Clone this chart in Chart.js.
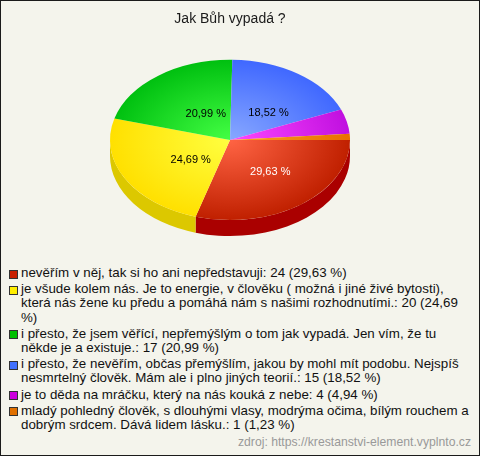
<!DOCTYPE html>
<html>
<head>
<meta charset="utf-8">
<script src="https://cdn.jsdelivr.net/npm/chart.js@4.4.1/dist/chart.umd.min.js"></script>
<style>
  body { margin: 0; background: #fff; }
  #wrap {
    position: relative; width: 478px; height: 454px;
    border: 1px solid #1a1a1a; background: #f4f4ec; overflow: hidden;
    font-family: "Liberation Sans", Arial, sans-serif;
  }
  #pie { position: absolute; left: 0; top: 0; }
  #legend { position: absolute; left: 8px; top: 265px; width: 460px; }
  .item { display: flex; align-items: flex-start; margin-bottom: 2px; font-size: 13.35px; line-height: 14.2px; color: #111; }
  .box { flex: none; width: 7px; height: 7px; border: 1px solid #333; margin: 3.5px 3px 0 0; }
  #source { position: absolute; right: 8px; top: 434px; font-size: 12.2px; line-height: 14px; color: #999; }
</style>
</head>
<body>
<div id="wrap">
  <canvas id="pie" width="478" height="250"></canvas>
  <div id="legend"></div>
  <div id="source">zdroj: https://krestanstvi-element.vyplnto.cz</div>
</div>
<script>
var title = 'Jak Bůh vypadá ?';
var answers = [
  'nevěřím v něj, tak si ho ani nepředstavuji',
  'je všude kolem nás. Je to energie, v člověku ( možná i jiné živé bytosti), která nás žene ku předu a pomáhá nám s našimi rozhodnutími.',
  'i přesto, že jsem věřící, nepřemýšlým o tom jak vypadá. Jen vím, že tu někde je a existuje.',
  'i přesto, že nevěřím, občas přemýšlím, jakou by mohl mít podobu. Nejspíš nesmrtelný člověk. Mám ale i plno jiných teorií.',
  'je to děda na mráčku, který na nás kouká z nebe',
  'mladý pohledný člověk, s dlouhými vlasy, modrýma očima, bílým rouchem a dobrým srdcem. Dává lidem lásku.'
];
var votes = [24, 20, 17, 15, 4, 1];

// colours: light centre, darker rim, side wall, legend box, label text
var lightColors = ['#ff6444', '#ffff40', '#44ff44', '#88a8ff', '#ff48ff', '#ffa020'];
var rimColors   = ['#c02000', '#ffe000', '#00c010', '#4068ff', '#c010e0', '#e87000'];
var sideColors  = ['#aa0000', '#dcc800', '#009000', '#2040c0', '#9000a0', '#b05000'];
var boxColors   = ['#c82000', '#ffee00', '#00c000', '#4070ff', '#cc00dd', '#e07000'];
var labelColors = ['#ffffff', '#000000', '#000000', '#000000', '#000000', '#000000'];

var total = votes.reduce((a, b) => a + b, 0);
function pct(v){
    return (v / total * 100).toFixed(2).replace('.', ',');
}

document.addEventListener('DOMContentLoaded', function() {
    build_legend();
    draw_pie();
});

function build_legend(){
    var legend = document.querySelector('#legend');
    answers.forEach((answer, i) => {
        var item = document.createElement('div');
        item.className = 'item';
        var box = document.createElement('span');
        box.className = 'box';
        box.style.background = boxColors[i];
        var text = document.createElement('span');
        text.textContent = answer + ': ' + votes[i] + ' (' + pct(votes[i]) + ' %)';
        item.appendChild(box);
        item.appendChild(text);
        legend.appendChild(item);
    });
}

// squash the circle into an ellipse and give it a wall
var depth = 16;
function ellipseOf(chart){
    var a = chart.chartArea;
    var rx = a.width / 2;
    var ry = (a.height - depth) / 2;
    return { cx: a.left + rx, cy: a.top + ry, rx: rx, ry: ry };
}

var tiltPlugin = {
    id: 'tilt',
    beforeDatasetsDraw(chart){
        var ctx = chart.ctx;
        var e = ellipseOf(chart);
        var meta = chart.getDatasetMeta(0);
        meta.data.forEach((arc, i) => {
            [0, 2 * Math.PI].forEach((base) => {
                var s = Math.max(arc.startAngle, base);
                var t = Math.min(arc.endAngle, base + Math.PI);
                if (t <= s) return;
                ctx.beginPath();
                ctx.ellipse(e.cx, e.cy, e.rx, e.ry, 0, s, t);
                ctx.ellipse(e.cx, e.cy + depth, e.rx, e.ry, 0, t, s, true);
                ctx.closePath();
                ctx.fillStyle = sideColors[i];
                ctx.fill();
            });
        });
        var arc0 = meta.data[0];
        ctx.save();
        ctx.translate(e.cx, e.cy);
        ctx.scale(e.rx / arc0.outerRadius, e.ry / arc0.outerRadius);
        ctx.translate(-arc0.x, -arc0.y);
    },
    afterDatasetsDraw(chart){
        var ctx = chart.ctx;
        ctx.restore();
        var e = ellipseOf(chart);
        var meta = chart.getDatasetMeta(0);
        ctx.font = '11px "Liberation Sans", Arial, sans-serif';
        ctx.textAlign = 'center';
        ctx.textBaseline = 'middle';
        meta.data.forEach((arc, i) => {
            if (votes[i] / total < 0.1) return;
            var mid = (arc.startAngle + arc.endAngle) / 2;
            ctx.fillStyle = labelColors[i];
            ctx.fillText(pct(votes[i]) + ' %',
                e.cx + 8 + e.rx * 0.45 * Math.cos(mid),
                e.cy + 3 + e.ry * 0.45 * Math.sin(mid));
        });
    }
};

function draw_pie(){
    var ctx = document.getElementById('pie');
    new Chart(ctx, {
        type: 'pie',
        data: {
            labels: answers,
            datasets: [{
                data: votes,
                borderWidth: 0,
                backgroundColor: function(c){
                    var area = c.chart.chartArea;
                    if (!area) return rimColors[c.dataIndex];
                    var x = (area.left + area.right) / 2;
                    var y = (area.top + area.bottom) / 2;
                    var r = Math.min(area.width, area.height) / 2;
                    var g = c.chart.ctx.createRadialGradient(x, y, 0, x, y, r);
                    g.addColorStop(0, lightColors[c.dataIndex]);
                    g.addColorStop(1, rimColors[c.dataIndex]);
                    return g;
                }
            }]
        },
        options: {
            responsive: false,
            animation: false,
            devicePixelRatio: 1,
            events: [],
            rotation: 90,
            layout: { padding: { left: 109, right: 129, top: 0, bottom: 15 } },
            plugins: {
                legend: { display: false },
                tooltip: { enabled: false },
                title: {
                    display: true,
                    text: title,
                    color: '#1a1a1a',
                    font: { family: '"Liberation Sans", Arial, sans-serif', size: 14, weight: 'normal' },
                    padding: { top: 10, bottom: 32 }
                }
            }
        },
        plugins: [tiltPlugin]
    });
}
</script>
</body>
</html>
